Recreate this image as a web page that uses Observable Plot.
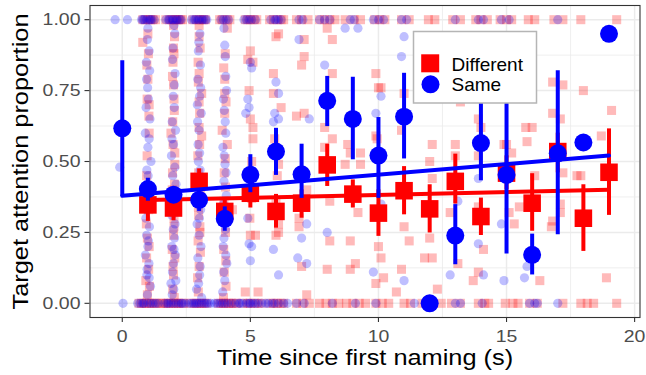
<!DOCTYPE html>
<html><head><meta charset="utf-8">
<script src="https://cdn.jsdelivr.net/npm/d3@7"></script>
<script src="https://cdn.jsdelivr.net/npm/@observablehq/plot@0.6"></script>
<style>
html,body{margin:0;padding:0;background:#fff;}
#wrap{position:relative;width:646px;height:375px;}
#legend{position:absolute;left:0;top:0;pointer-events:none;}
</style></head><body><div id="wrap"></div>
<script>
// ---- summary data (mean and interval per time bin) ----
const sameTimes = [0,1,2,3,4,5,6,7,8,9,10,11,12,13,14,15,16,17,18,19];
const sameMean  = [0.617,0.403,0.383,0.365,0.298,0.453,0.535,0.455,0.714,0.650,0.521,0.658,0.000,0.239,0.565,0.453,0.171,0.529,0.567,0.950];
const sameLo    = [0.377,0.360,0.355,0.324,0.254,0.390,0.451,0.370,0.623,0.506,0.370,0.509,null,0.136,0.432,0.174,0.100,0.242,null,null];
const sameHi    = [0.855,0.441,0.410,0.400,0.340,0.524,0.617,0.561,0.800,0.797,0.655,0.811,null,0.348,0.720,0.750,0.244,0.820,null,null];

const diffTimes = [1,2,3,4,5,6,7,8,9,10,11,12,13,14,15,16,17,18,19];
const diffMean  = [0.347,0.336,0.430,0.324,0.388,0.324,0.353,0.488,0.385,0.318,0.397,0.333,0.430,0.306,0.459,0.353,0.535,0.300,0.462];
const diffLo    = [0.289,0.291,0.390,0.290,0.336,0.265,0.300,0.412,0.336,0.236,0.312,0.248,0.350,0.239,0.400,0.254,0.460,0.183,0.310];
const diffHi    = [0.400,0.380,0.474,0.363,0.440,0.384,0.400,0.561,0.435,0.400,0.482,0.418,0.526,0.371,0.520,0.457,0.600,0.418,0.615];

// ---- linear fits (end points) ----
const sameFitX = [0, 19];
const sameFitY = [0.379, 0.521];
const diffFitX = [1, 19];
const diffFitY = [0.364, 0.400];

// ---- raw (jittered) observations [time, proportion] ----
const sameRaw = [
 [-0.28,1],[0.2,1],[-0.1,0.48],[0.03,0],
 [0.75,1],[0.85,1],[0.95,1],[1.1,1],[1.25,1],[0.98,0.93],[1.05,0.89],[0.95,0.79],[1.02,0.72],[1.08,0.65],[0.9,0.6],[1.0,0.55],[1.12,0.5],[0.97,0.42],[1.03,0.38],[0.92,0.3],[1.06,0.27],[0.95,0.24],[1.0,0.2],[0.9,0.17],[1.04,0.14],[0.96,0.1],[1.1,0.06],[0.98,0.03],[0.7,0],[0.85,0],[1.0,0],[1.2,0],[1.3,0],
 [1.0,0.97],[0.94,0.85],[1.07,0.82],[0.99,0.76],[0.93,0.69],[1.05,0.58],[0.96,0.47],[1.01,0.45],[1.08,0.34],[0.94,0.33],[1.02,0.22],[0.97,0.12],[1.05,0.09],[0.6,0],[0.8,0],[1.1,0],[1.4,0],[0.8,1],[1.05,1],[1.15,1],
 [1.7,1],[1.85,1],[2.0,1],[2.15,1],[2.3,1],[2.05,0.95],[1.98,0.9],[2.03,0.77],[1.95,0.64],[2.08,0.61],[2.0,0.56],[1.92,0.52],[2.05,0.48],[1.97,0.45],[2.1,0.42],[2.02,0.35],[1.94,0.31],[2.06,0.28],[1.99,0.26],[2.04,0.23],[1.93,0.2],[2.07,0.17],[2.0,0.14],[1.96,0.11],[2.09,0.08],[2.01,0.05],[1.95,0.03],[1.65,0],[1.8,0],[2.0,0],[2.2,0],[2.35,0],
 [2.02,0.98],[1.96,0.86],[2.06,0.81],[1.99,0.73],[2.03,0.69],[1.94,0.58],[2.07,0.38],[1.97,0.33],[2.02,0.19],[1.9,0.07],[1.75,0],[1.9,0],[2.1,0],[2.3,0],[2.45,0],[1.8,1],[1.95,1],[2.1,1],[2.25,1],
 [2.7,1],[2.85,1],[3.0,1],[3.15,1],[3.3,1],[2.97,0.89],[3.05,0.84],[2.95,0.79],[3.02,0.73],[2.93,0.7],[3.08,0.67],[3.0,0.61],[2.96,0.56],[3.04,0.47],[2.98,0.41],[3.06,0.33],[2.92,0.28],[3.0,0.24],[3.07,0.2],[2.95,0.16],[3.02,0.1],[2.9,0.05],[3.1,0.02],[2.7,0],[2.85,0],[3.0,0],[3.2,0],[3.35,0],
 [3.03,0.95],[2.99,0.92],[3.06,0.76],[2.94,0.64],[3.02,0.53],[2.97,0.5],[3.05,0.44],[2.95,0.37],[3.01,0.3],[3.04,0.13],[2.98,0.07],[2.6,0],[2.78,0],[2.92,0],[3.1,0],[3.28,0],[3.45,0],[2.8,1],[2.95,1],[3.1,1],[3.25,1],
 [3.85,1],[4.05,1],[4.0,0.91],[4.02,0.87],[4.07,0.75],[3.98,0.68],[4.04,0.6],[3.93,0.55],[4.01,0.49],[3.97,0.43],[4.06,0.38],[3.99,0.32],[4.03,0.26],[3.94,0.2],[4.08,0.14],[3.96,0.11],[4.0,0.08],[3.92,0.04],[3.8,0],[4.0,0],[4.25,0],
 [3.97,0.97],[4.04,0.8],[3.95,0.72],[4.02,0.64],[3.98,0.52],[4.05,0.46],[3.95,0.35],[4.02,0.29],[3.97,0.23],[4.04,0.17],[3.6,0],[3.7,0],[3.9,0],[4.1,0],[4.4,0],[4.55,0],[3.95,1],[4.15,1],
 [4.75,1],[4.95,1],[5.2,1],[5.0,0.85],[5.05,0.83],[4.9,0.72],[4.95,0.69],[4.82,0.67],[4.9,0.3],[4.95,0.21],[5.0,0.15],[5.05,0.2],[4.7,0],[4.85,0],[5.0,0],[5.2,0],[5.3,0],
 [4.6,0],[4.95,0],[5.1,0],[5.45,0],[5.6,0],[5.05,1],[4.85,1],
 [5.8,1],[6.0,1],[6.2,1],[6.0,0.78],[6.1,0.74],[5.9,0.64],[6.1,0.65],[5.95,0.67],[5.9,0.19],[6.1,0.1],[5.85,0],[6.1,0],[6.3,0],
 [5.7,0],[5.95,0],[6.45,0],[5.95,1],[6.1,1],
 [6.9,1],[7.05,1],[6.9,0.93],[7.3,0.65],[7.2,0.28],[7.0,0.23],[6.85,0.16],[7.2,0.14],[6.8,0],[7.1,0],
 [7.7,1],[7.9,1],[8.1,1],[7.9,0.84],[8.7,0.97],[8.0,0.25],[8.2,0],
 [8.9,1],[9.05,1],[9.2,0.97],[9.1,0],
 [9.8,1],[10.0,1],[10.2,1],[10.1,0.73],[9.9,0.67],[10.1,0.35],[9.8,0.11],[9.9,0],
 [10.9,1],[11.1,1],[11.0,0.94],[10.9,0.87],[11.0,0.08],[11.4,0],
 [12.0,0],
 [13.0,1],[13.1,0.36],[12.8,0.1],[13.0,0],[13.2,0],
 [13.9,1],[14.1,1],[13.9,0.44],[13.9,0.21],[14.1,0.1],[14.05,0],
 [14.8,1],[15.1,1],[14.8,0.28],[14.9,0.08],[15.7,0.09],[15.8,0.13],
 [15.9,0],[16.1,0],[16.2,0],
 [17.0,1],[17.0,0],
 [18.0,0.567],
 [19.0,0.95]
];
const diffRaw = [
 [0.8,1],[1.0,1],[1.2,1],[1.3,1],[1.0,0.95],[0.8,0.92],[1.0,0.79],[0.97,0.72],[1.05,0.7],[1.05,0.6],[0.95,0.45],[1.0,0.37],[1.03,0.33],[0.98,0.23],[0.95,0.16],[1.03,0.12],[0.92,0.08],[1.06,0.06],[0.75,0],[0.95,0],[1.15,0],[1.35,0],
 [1.02,0.88],[0.96,0.84],[1.04,0.66],[0.97,0.52],[1.01,0.41],[0.94,0.28],[1.05,0.2],[0.98,0.03],[0.65,0],[0.85,0],[1.05,0],[1.25,0],[1.5,0],[0.9,1],[1.1,1],
 [1.7,1],[1.85,1],[2.05,1],[2.2,1],[2.35,1],[2.0,0.98],[2.0,0.9],[2.02,0.88],[1.98,0.85],[2.0,0.77],[2.03,0.68],[1.97,0.64],[1.9,0.6],[2.05,0.53],[1.96,0.46],[2.04,0.42],[1.98,0.37],[2.02,0.3],[2.0,0.24],[1.95,0.19],[2.05,0.16],[2.0,0.1],[1.97,0.05],[2.03,0.02],[1.7,0],[1.9,0],[2.1,0],[2.3,0],
 [2.04,0.94],[1.96,0.8],[2.02,0.72],[1.98,0.56],[2.05,0.49],[1.95,0.4],[2.02,0.27],[1.98,0.13],[1.6,0],[1.8,0],[2.0,0],[2.2,0],[2.4,0],[1.95,1],[2.1,1],[2.28,1],
 [2.75,1],[2.9,1],[3.1,1],[3.25,1],[3.0,0.98],[3.0,0.94],[3.0,0.81],[2.97,0.78],[3.1,0.74],[3.0,0.71],[3.02,0.67],[3.0,0.62],[3.1,0.59],[2.95,0.52],[3.05,0.38],[2.98,0.31],[3.03,0.27],[2.96,0.22],[3.05,0.18],[3.0,0.13],[2.94,0.09],[2.8,0],[3.0,0],[3.2,0],
 [3.04,0.9],[2.96,0.85],[3.02,0.56],[2.98,0.46],[3.05,0.42],[2.97,0.34],[3.03,0.25],[2.97,0.04],[2.65,0],[2.9,0],[3.1,0],[3.3,0],[3.0,1],[3.18,1],
 [3.8,1],[4.1,1],[4.1,0.97],[4.0,0.79],[4.0,0.74],[4.0,0.67],[3.9,0.61],[4.1,0.56],[4.02,0.51],[3.97,0.36],[4.3,0.33],[4.03,0.25],[3.96,0.19],[4.04,0.15],[3.98,0.11],[4.05,0.06],[3.95,0.02],[3.75,0],[3.95,0],[4.15,0],[4.35,0],
 [4.02,0.88],[3.96,0.83],[4.05,0.71],[3.98,0.46],[4.03,0.41],[3.97,0.29],[3.85,0],[4.05,0],[4.25,0],[4.45,0],[3.9,1],[4.2,1],
 [4.8,1],[5.0,1],[5.25,1],[5.0,0.89],[5.1,0.85],[4.9,0.86],[5.0,0.65],[5.1,0.62],[5.1,0.58],[5.0,0.46],[5.05,0.37],[5.0,0.24],[5.2,0.24],[4.8,0.04],[5.3,0.04],[4.7,0],[5.0,0],[5.3,0],
 [4.95,0.75],[5.05,0.5],[4.98,0.3],[4.9,0],[5.15,0],[5.45,0],[4.9,1],[5.15,1],
 [5.75,1],[6.05,1],[6.3,1],[6.1,0.95],[6.0,0.94],[5.9,0.81],[5.9,0.74],[6.2,0.69],[6.1,0.49],[6.0,0.36],[6.1,0.28],[6.1,0.25],[6.0,0.24],[5.8,0],[6.05,0],[6.3,0],
 [5.95,0.58],[6.05,0.45],[5.9,0],[6.2,0],[5.9,1],[6.2,1],
 [6.8,1],[7.0,1],[7.25,1],[7.1,0.93],[7.1,0.87],[7.0,0.84],[6.8,0.66],[7.1,0.67],[7.2,0.4],[6.9,0.3],[6.9,0.27],[7.0,0.13],[7.2,0.03],[6.8,0],[7.05,0],[7.3,0],
 [7.7,1],[7.9,1],[8.1,1],[8.3,1],[8.0,0.97],[8.2,0.93],[8.2,0.81],[8.0,0.71],[7.9,0.62],[8.2,0.58],[7.9,0.55],[8.1,0.36],[8.1,0.22],[8.0,0.12],[7.7,0],[7.95,0],[8.2,0],[8.45,0],
 [8.7,1],[9.05,1],[9.3,1],[8.8,0.56],[8.9,0.53],[9.3,0.53],[8.7,0.49],[9.3,0.49],[9.2,0.32],[8.9,0.22],[9.1,0.14],[8.9,0.12],[8.75,0],[9.0,0],[9.25,0],[9.5,0],
 [9.85,1],[10.05,1],[10.25,1],[9.9,0.81],[10.0,0.76],[10.1,0.76],[9.9,0.59],[9.95,0.58],[10.0,0.2],[10.1,0.16],[10.2,0.09],[9.9,0.07],[9.9,0],[10.15,0],[10.4,0],
 [10.9,1],[11.2,1],[11.0,0.74],[10.9,0.61],[11.0,0.27],[11.2,0.22],[10.9,0.12],[10.7,0.04],[11.0,0],[11.25,0],
 [11.95,1],[12.2,1],[12.1,0.56],[12.0,0.5],[12.1,0.44],[12.0,0.23],[11.8,0.16],[12.1,0.16],[12.3,0.05],[11.7,0],[12.45,0],
 [12.9,1],[13.2,1],[13.2,0.71],[13.0,0.56],[13.0,0.52],[12.8,0.32],[13.1,0.14],[13.2,0],[12.85,0],
 [13.8,1],[14.0,1],[14.25,1],[13.9,0.65],[14.0,0.62],[13.9,0.52],[13.9,0.34],[14.1,0.19],[13.9,0.11],[13.7,0.08],[13.9,0],[14.15,0],[14.3,0],
 [14.75,1],[15.0,1],[15.2,1],[14.9,0.56],[15.0,0.56],[15.2,0.53],[15.1,0.32],[15.3,0.28],[15.5,0.34],[14.95,0],[15.25,0],[15.45,0],
 [15.85,1],[16.1,1],[16.0,0.62],[15.8,0.57],[15.75,0.62],[16.1,0.45],[16.3,0.08],[15.9,0],[16.2,0],
 [16.85,1],[17.2,1],[16.8,0.78],[17.2,0.77],[16.8,0.67],[17.1,0.65],[17.2,0.46],[17.1,0.35],[17.1,0.32],[16.8,0.29],[16.75,0.27],[17.2,0],
 [17.9,1],[18.0,0.75],[18.7,0.59],[17.9,0.45],[17.75,0.45],[17.9,0],[18.15,0],[18.4,0],
 [19.3,1],[19.1,0.68],[18.9,0.09],[19.3,0]
];

// ---- axes / labels ----
const xTicks = [0,5,10,15,20];
const yTicks = [0,0.25,0.5,0.75,1];
const xMinor = [2.5,7.5,12.5,17.5];
const yMinor = [0.125,0.375,0.625,0.875];
const xTitle = "Time since first naming (s)";
const yTitle = "Target attention proportion";
const groups = ["Different","Same"];
const groupColors = ["#FF0000","#0000FF"];

// ---- build tables ----
const sameSum = sameTimes.map((t,i)=>({t, m:sameMean[i], lo:sameLo[i], hi:sameHi[i]}));
const diffSum = diffTimes.map((t,i)=>({t, m:diffMean[i], lo:diffLo[i], hi:diffHi[i]}));
const sameFit = sameFitX.map((x,i)=>({x, y:sameFitY[i]}));
const diffFit = diffFitX.map((x,i)=>({x, y:diffFitY[i]}));
const RED = groupColors[0], BLUE = groupColors[1];
const FONT = "'Liberation Sans', Arial, Helvetica, sans-serif";

const chart = Plot.plot({
  width: 646, height: 375,
  marginLeft: 89.5, marginRight: 6.5, marginTop: 5, marginBottom: 58,
  x: {domain: [-1.26, 20.21]},
  y: {domain: [-0.05, 1.05]},
  style: {fontFamily: FONT, background: "#fff", overflow: "visible"},
  marks: [
    Plot.gridX(xMinor, {stroke: "#EBEBEB", strokeOpacity: 1, strokeWidth: 0.8}),
    Plot.gridY(yMinor, {stroke: "#EBEBEB", strokeOpacity: 1, strokeWidth: 0.8}),
    Plot.gridX(xTicks, {stroke: "#EBEBEB", strokeOpacity: 1, strokeWidth: 1.5}),
    Plot.gridY(yTicks, {stroke: "#EBEBEB", strokeOpacity: 1, strokeWidth: 1.5}),
    Plot.dot(diffRaw, {x: d=>d[0], y: d=>d[1], symbol: "square", r: 5.1, fill: RED, fillOpacity: 0.27, stroke: null}),
    Plot.dot(sameRaw, {x: d=>d[0], y: d=>d[1], symbol: "circle", r: 4.6, fill: BLUE, fillOpacity: 0.25, stroke: null}),
    Plot.ruleX(diffSum.filter(d=>d.lo!=null), {x: "t", y1: "lo", y2: "hi", stroke: RED, strokeWidth: 4}),
    Plot.line(diffFit, {x: "x", y: "y", stroke: RED, strokeWidth: 4}),
    Plot.dot(diffSum, {x: "t", y: "m", symbol: "square", r: 9.9, fill: RED, stroke: null}),
    Plot.ruleX(sameSum.filter(d=>d.lo!=null), {x: "t", y1: "lo", y2: "hi", stroke: BLUE, strokeWidth: 4}),
    Plot.line(sameFit, {x: "x", y: "y", stroke: BLUE, strokeWidth: 4}),
    Plot.dot(sameSum, {x: "t", y: "m", symbol: "circle", r: 9, fill: BLUE, stroke: null}),
    Plot.frame({stroke: "#333333", strokeWidth: 1.1}),
    Plot.axisX(xTicks, {tickSize: 5, tickPadding: 7.5, fontSize: 16.5, stroke: "#333333", strokeWidth: 1.1, fill: "#4D4D4D", label: null, tickFormat: d=>String(d)}),
    Plot.axisY(yTicks, {tickSize: 5, tickPadding: 4.5, fontSize: 16.5, stroke: "#333333", strokeWidth: 1.1, fill: "#4D4D4D", label: null, tickFormat: d3.format(".2f")}),
    Plot.text([xTitle], {text: d=>d, frameAnchor: "bottom", textAnchor: "middle", lineAnchor: "bottom", dy: 47.5, fontSize: 21.5, fill: "#000"}),
    Plot.text([yTitle], {text: d=>d, frameAnchor: "left", textAnchor: "middle", rotate: -90, lineAnchor: "bottom", dx: -62, fontSize: 21.5, fill: "#000"})
  ]
});

const wrap = document.getElementById("wrap");
wrap.appendChild(chart);

// widen glyphs horizontally (about each text's anchor) to match the reference typeface
chart.querySelectorAll("text").forEach(t => {
  const b = t.getBBox();
  const anchor = getComputedStyle(t).textAnchor;
  const cx = anchor === "end" ? b.x + b.width : anchor === "middle" ? b.x + b.width / 2 : b.x;
  const tr = t.getAttribute("transform") || "";
  t.setAttribute("transform", `${tr} translate(${cx.toFixed(3)},0) scale(1.18,1) translate(${(-cx).toFixed(3)},0)`.trim());
});

// ---- legend overlay (inside panel, top right) ----
const ns = "http://www.w3.org/2000/svg";
const lg = document.createElementNS(ns, "svg");
lg.setAttribute("id", "legend");
lg.setAttribute("width", 646); lg.setAttribute("height", 375);
const mk = (tag, attrs) => { const e = document.createElementNS(ns, tag); for (const k in attrs) e.setAttribute(k, attrs[k]); lg.appendChild(e); return e; };
mk("rect", {x: 413.5, y: 31.5, width: 123, height: 71.5, fill: "#fff", stroke: "#B5B5B5", "stroke-width": 1.5});
mk("rect", {x: 421.2, y: 54.3, width: 18, height: 18, fill: RED});
mk("circle", {cx: 430.5, cy: 84.3, r: 9, fill: BLUE});
groups.forEach((g, i) => {
  const t = mk("text", {x: 451.5, y: i === 0 ? 71 : 90.8, "font-family": FONT, "font-size": 19, fill: "#000"});
  t.textContent = g;
});
wrap.appendChild(lg);
</script></body></html>
